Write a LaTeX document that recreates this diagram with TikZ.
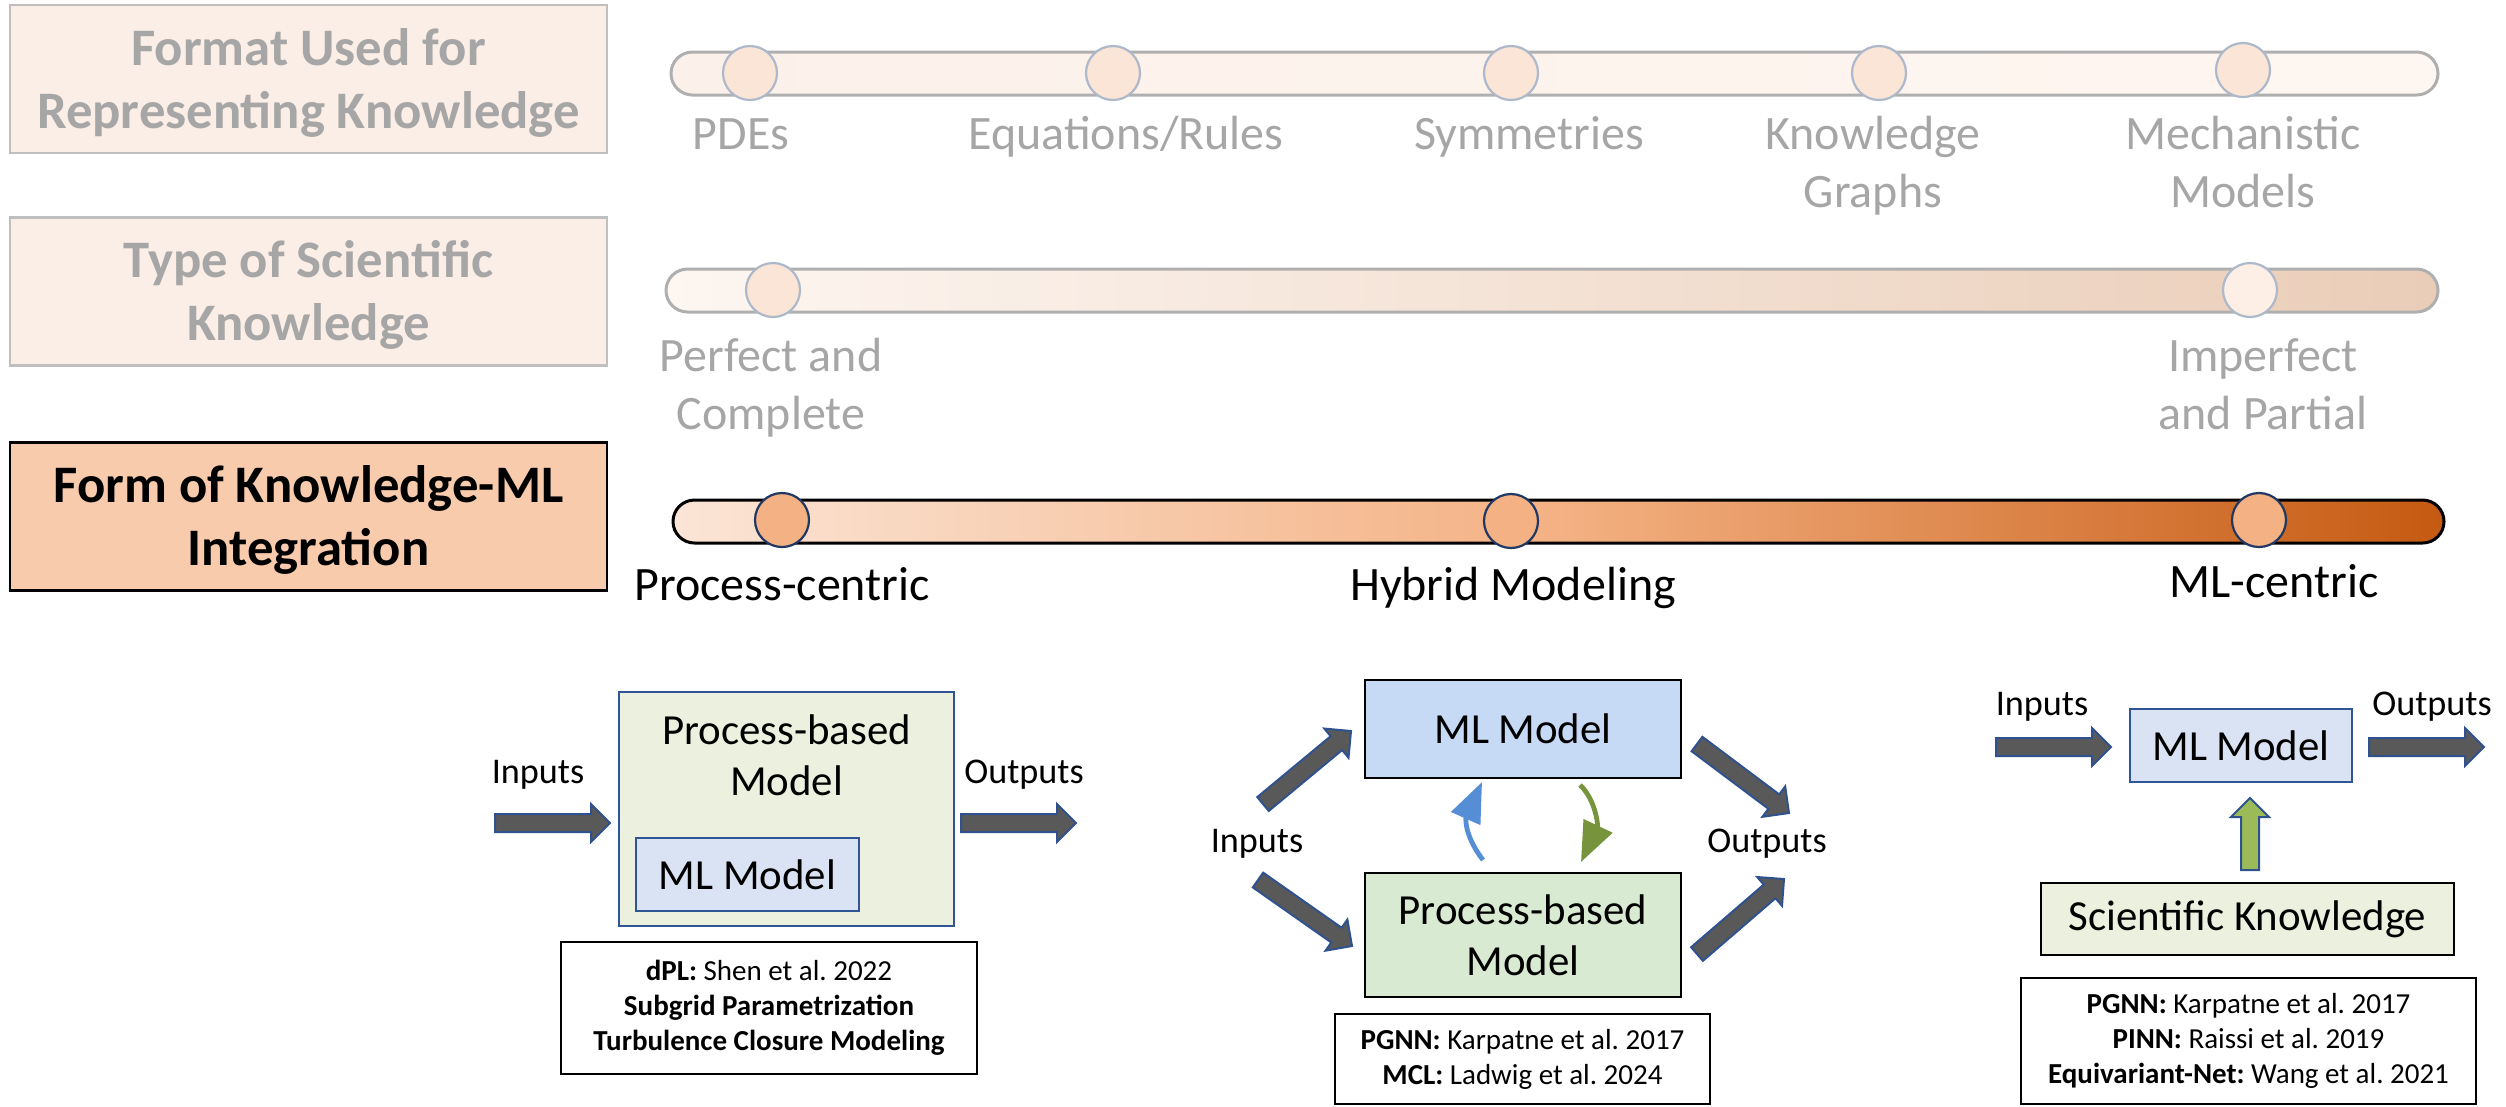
\documentclass[tikz,border=0pt]{standalone}
\usepackage{fontspec}
\setmainfont{Carlito}
\usetikzlibrary{arrows.meta,calc}
\frenchspacing

\definecolor{peachbox}{HTML}{FBEEE6}
\definecolor{peachdark}{HTML}{F8CBAD}
\definecolor{grayline}{HTML}{BFBFBF}
\definecolor{barline}{HTML}{AFAFAF}
\definecolor{graytext}{HTML}{A6A6A6}
\definecolor{knobedge}{HTML}{ADB9CA}
\definecolor{knobfill}{HTML}{FBE5D6}
\definecolor{knobstrongfill}{HTML}{F4B183}
\definecolor{navy}{HTML}{203864}
\definecolor{mlblue}{HTML}{DAE3F3}
\definecolor{mlbluemid}{HTML}{C6D9F5}
\definecolor{pbgreen}{HTML}{EBF1DE}
\definecolor{pbgreenmid}{HTML}{D9EAD3}
\definecolor{boxblue}{HTML}{2F5597}
\definecolor{arrowgray}{HTML}{595959}
\definecolor{arrowedge}{HTML}{2F528F}
\definecolor{curveblue}{HTML}{558ED5}
\definecolor{curvegreen}{HTML}{77933C}
\definecolor{upgreen}{HTML}{9BBB59}
\definecolor{barAl}{HTML}{FCF1EA}
\definecolor{barAr}{HTML}{FEF6F1}
\definecolor{barBl}{HTML}{FDF6F1}
\definecolor{barBr}{HTML}{EACDB8}
\definecolor{barCl}{HTML}{FBE5D6}
\definecolor{barCm}{HTML}{F4B183}
\definecolor{barCr}{HTML}{C55A11}

% horizontal fills of the three scales (path spans 25bp..75bp)
\pgfdeclarehorizontalshading{scaleA}{100bp}{color(0bp)=(barAl); color(25bp)=(barAl); color(75bp)=(barAr); color(100bp)=(barAr)}
\pgfdeclarehorizontalshading{scaleB}{100bp}{color(0bp)=(barBl); color(25bp)=(barBl); color(75bp)=(barBr); color(100bp)=(barBr)}
\pgfdeclarehorizontalshading{scaleC}{100bp}{color(0bp)=(barCl); color(25bp)=(barCl); color(50bp)=(barCm); color(75bp)=(barCr); color(100bp)=(barCr)}

% block arrow from #2 (tail) to #3 (tip)
\newcommand\blockarrow[3][arrowgray]{%
  \coordinate (bahead) at ($(#3)!1.9mm!(#2)$);
  \filldraw[fill=#1, draw=arrowedge, line width=0.2mm, line join=miter]
    ($(#2)!0.9mm!90:(#3)$) -- ($(bahead)!0.9mm!-90:(#2)$) -- ($(bahead)!1.9mm!-90:(#2)$) -- (#3)
    -- ($(bahead)!1.9mm!90:(#2)$) -- ($(bahead)!0.9mm!90:(#2)$) -- ($(#2)!0.9mm!-90:(#3)$) -- cycle;}

\tikzset{
  titlebox/.style={draw, line width=0.25mm, minimum width=59.7mm, minimum height=14.8mm,
    inner sep=0pt, align=center, font=\fontsize{15pt}{17.9pt}\selectfont\bfseries},
  scalelabel/.style={anchor=north, inner sep=0pt, align=center, font=\fontsize{13.65pt}{16.5pt}\selectfont},
  knob/.style={circle, minimum size=5.4mm, inner sep=0pt, line width=0.22mm},
  knobpale/.style={knob, draw=knobedge, fill=knobfill},
  knobstrong/.style={knob, draw=navy, fill=knobstrongfill},
  modelfont/.style={font=\fontsize{12.2pt}{14.51pt}\selectfont},
  modelbox/.style={draw, line width=0.2mm, inner sep=0pt, align=center, modelfont},
  refbox/.style={draw=black, line width=0.2mm, inner sep=0pt, align=center, font=\fontsize{8.25pt}{9.96pt}\selectfont},
  io/.style={anchor=base, inner sep=0pt, font=\fontsize{10.3pt}{12.5pt}\selectfont},
  curvearrow/.style={line width=0.48mm, -{Triangle[length=4mm, width=3.1mm]}},
}

\begin{document}
\begin{tikzpicture}[x=0.1mm, y=-0.1mm]
\useasboundingbox (0,0) rectangle (2506,1106);

% ---- row headings ----
\node[titlebox, draw=grayline, fill=peachbox, text=graytext] (fmt) at (308.5,79) {\strut Format Used for\\Representing Knowledge};
\node[titlebox, draw=grayline, fill=peachbox, text=graytext] (typ) at (308.5,291.5) {\strut Type of Scientific\\Knowledge};
\node[titlebox, draw=black, fill=peachdark] (frm) at (308.5,516.5) {\strut Form of Knowledge-ML\\Integration};

% ---- scale 1: representation format ----
\shadedraw[shading=scaleA, draw=barline, line width=0.3mm, rounded corners=2.15mm] (671,52) rectangle (2438,95);
\node[knobpale] (f1) at (750,73) {};
\node[knobpale] (f2) at (1113,73) {};
\node[knobpale] (f3) at (1511,73) {};
\node[knobpale] (f4) at (1879,73) {};
\node[knobpale] (f5) at (2243,70) {};
\node[scalelabel, text=graytext] (lf1) at (741,108) {\strut PDEs};
\node[scalelabel, text=graytext] (lf2) at (1126,108) {\strut Equations/Rules};
\node[scalelabel, text=graytext] (lf3) at (1529,108) {\strut Symmetries};
\node[scalelabel, text=graytext] (lf4) at (1873,108) {\strut Knowledge\\Graphs};
\node[scalelabel, text=graytext] (lf5) at (2243,108) {\strut Mechanistic\\Models};

% ---- scale 2: type of knowledge ----
\shadedraw[shading=scaleB, draw=barline, line width=0.3mm, rounded corners=2.15mm] (666,269) rectangle (2438,312);
\node[knobpale] (k1) at (773,290) {};
\node[knobpale, fill=knobfill!60!white] (k2) at (2250,290) {};
\node[scalelabel, text=graytext] (lk1) at (771,330) {\strut Perfect and\\Complete};
\node[scalelabel, text=graytext] (lk2) at (2263,330) {\strut Imperfect\\and Partial};

% ---- scale 3: form of integration ----
\shadedraw[shading=scaleC, draw=black, line width=0.3mm, rounded corners=2.15mm] (673,500) rectangle (2444,543);
\node[knobstrong] (i1) at (782,520) {};
\node[knobstrong] (i2) at (1511,521) {};
\node[knobstrong] (i3) at (2259,520) {};
\node[scalelabel] (li1) at (782,559) {\strut Process-centric};
\node[scalelabel] (li2) at (1513,559) {\strut Hybrid Modeling};
\node[scalelabel] (li3) at (2274,556) {\strut ML-centric};

% ---- process-centric scheme ----
\node[modelbox, draw=boxblue, fill=pbgreen, minimum width=33.5mm, minimum height=23.4mm] (pbL) at (786.5,809) {};
\node[scalelabel, modelfont] (pbLtext) at ($(pbL.north)+(0,17)$) {\strut Process-based\\Model};
\node[modelbox, draw=boxblue, fill=mlblue, minimum width=22.3mm, minimum height=7.3mm] (mlL) at (747.5,874.5) {ML Model};
\node[io] (inLtxt) at (538,783) {Inputs};
\node[io] (outLtxt) at (1024,783) {Outputs};
\coordinate (inLa) at (495,823);
\coordinate (inLb) at ($(pbL.west |- inLa)+(-8,0)$);
\coordinate (outLa) at ($(pbL.east |- inLa)+(6,0)$);
\coordinate (outLb) at (1076,823);
\blockarrow{inLa}{inLb}
\blockarrow{outLa}{outLb}
\node[refbox, minimum width=41.6mm, minimum height=13.2mm] (refL) at (769,1008)
  {\textbf{dPL:} Shen et al. 2022\\\textbf{Subgrid Parametrization}\\\textbf{Turbulence Closure Modeling}};

% ---- hybrid scheme ----
\node[modelbox, draw=black, fill=mlbluemid, minimum width=31.6mm, minimum height=9.8mm] (mlM) at (1523,729) {ML Model};
\node[modelbox, draw=black, fill=pbgreenmid, minimum width=31.6mm, minimum height=12.4mm] (pbM) at (1523,935) {Process-based\\Model};
\node[io] (inMtxt) at (1257,852) {Inputs};
\node[io] (outMtxt) at (1767,852) {Outputs};
\coordinate (inMa) at (1263,804);
\coordinate (inMb) at ($(mlM.south west)+(-13,-48)$);
\coordinate (inMc) at (1258,880);
\coordinate (inMd) at ($(pbM.north west)+(-12,74)$);
\coordinate (outMa) at ($(mlM.south east)+(15,-35)$);
\coordinate (outMb) at (1789,813);
\coordinate (outMc) at ($(pbM.north east)+(15,82)$);
\coordinate (outMd) at (1784,879);
\blockarrow{inMa}{inMb}
\blockarrow{inMc}{inMd}
\blockarrow{outMa}{outMb}
\blockarrow{outMc}{outMd}
\draw[curvearrow, curveblue] ($(pbM.north)+(-40,-12)$) .. controls (1466,838) and (1465,820) .. ($(mlM.south)+(-41,3)$);
\draw[curvearrow, curvegreen] ($(mlM.south)+(57,6)$) .. controls (1596,800) and (1598,826) .. ($(pbM.north)+(58,-10)$);
\node[refbox, minimum width=37.5mm, minimum height=9mm] (refM) at (1522.5,1059)
  {\textbf{PGNN:} Karpatne et al. 2017\\\textbf{MCL:} Ladwig et al. 2024};

% ---- ML-centric scheme ----
\node[modelbox, draw=boxblue, fill=mlblue, minimum width=22.2mm, minimum height=7.3mm] (mlR) at (2241,745.5) {ML Model};
\node[modelbox, draw=black, fill=pbgreen, minimum width=41.3mm, minimum height=7.2mm] (skR) at (2247.5,919) {Scientific Knowledge};
\node[io] (inRtxt) at (2042,715) {Inputs};
\node[io] (outRtxt) at (2432,715) {Outputs};
\coordinate (inRa) at (1996,747);
\coordinate (inRb) at ($(mlR.west |- inRa)+(-18,0)$);
\coordinate (outRa) at ($(mlR.east |- inRa)+(16,0)$);
\coordinate (outRb) at (2484,747);
\blockarrow{inRa}{inRb}
\blockarrow{outRa}{outRb}
\coordinate (upA) at ($(skR.north)+(2.5,-12)$);
\coordinate (upB) at (2250,798);
\blockarrow[upgreen]{upA}{upB}
\node[refbox, minimum width=45.5mm, minimum height=12.6mm] (refR) at (2248.5,1041)
  {\textbf{PGNN:} Karpatne et al. 2017\\\textbf{PINN:} Raissi et al. 2019\\\textbf{Equivariant-Net:} Wang et al. 2021};
\end{tikzpicture}
\end{document}
